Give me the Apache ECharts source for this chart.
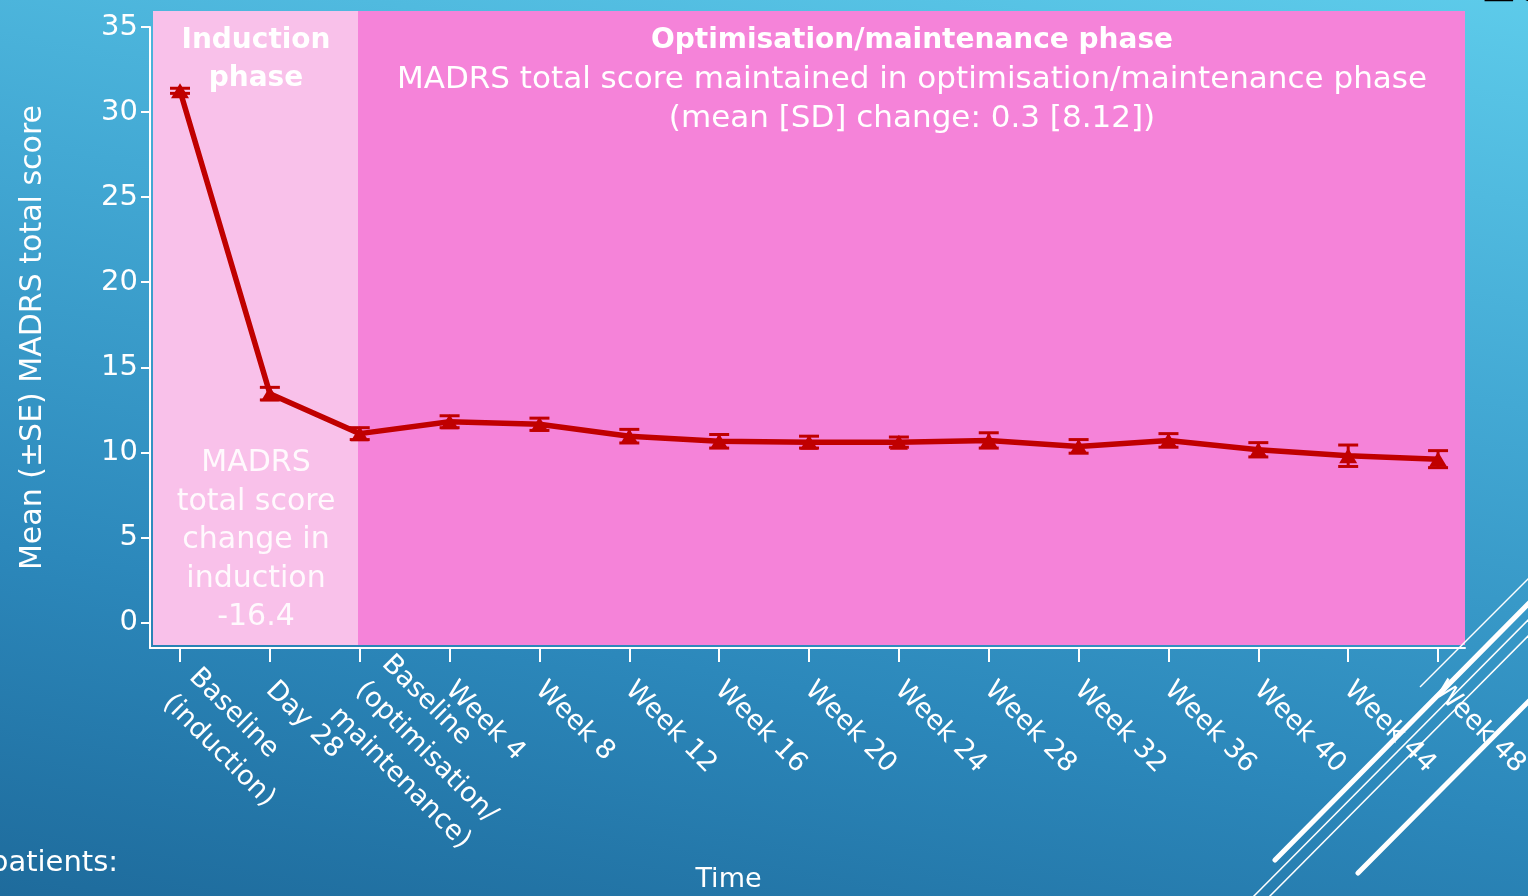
<!DOCTYPE html>
<html>
<head>
<meta charset="utf-8">
<title>MADRS total score</title>
<script src="https://cdn.jsdelivr.net/npm/echarts@6/dist/echarts.min.js"></script>
<style>
  html, body { margin: 0; padding: 0; overflow: hidden; }
  #chart {
    width: 1528px;
    height: 896px;
    background: linear-gradient(190deg, #5dcbea 0%, #43a9d4 35%, #2c88bb 70%, #1e6b9c 100%);
  }
</style>
</head>
<body>
<div id="chart"></div>
<script>
const categories = [
  "Baseline\n(induction)",
  "Day 28",
  "Baseline\n(optimisation/\nmaintenance)",
  "Week 4",
  "Week 8",
  "Week 12",
  "Week 16",
  "Week 20",
  "Week 24",
  "Week 28",
  "Week 32",
  "Week 36",
  "Week 40",
  "Week 44",
  "Week 48",
];
const meanScore = [31.25, 13.45, 11.1, 11.8, 11.65, 10.95, 10.65, 10.6, 10.6, 10.7, 10.35, 10.7, 10.15, 9.8, 9.6];
const seScore = [0.15, 0.37, 0.35, 0.35, 0.36, 0.4, 0.4, 0.35, 0.3, 0.45, 0.4, 0.4, 0.42, 0.63, 0.5];
const yTicks = [0, 5, 10, 15, 20, 25, 30, 35];
const xTicks = categories.map((c, i) => i);

const font = "DejaVu Sans";
const red = "#c00000";

const chart = echarts.init(document.getElementById("chart"));

const option = {
  backgroundColor: "transparent",
  textStyle: {
    fontFamily: font,
    color: "#ffffff",
  },
  grid: {
    left: 150,
    right: 63,
    top: 27,
    bottom: 248,
    containLabel: false,
    outerBoundsMode: "none",
  },
  xAxis: {
    type: "value",
    min: -0.334,
    max: 14.3,
    name: "Time",
    nameLocation: "middle",
    nameGap: 218,
    nameTextStyle: {
      fontSize: 27,
      color: "#ffffff",
      padding: [0, 158, 0, 0],
    },
    axisLine: { show: true, onZero: false, lineStyle: { color: "#ffffff", width: 2 } },
    axisTick: {
      show: true,
      length: 14,
      customValues: xTicks,
      lineStyle: { color: "#ffffff", width: 2 },
    },
    axisLabel: {
      customValues: xTicks,
      rotate: -45,
      margin: 38,
      fontSize: 27,
      lineHeight: 37,
      color: "#ffffff",
      formatter: (v) => categories[Math.round(v)],
    },
    splitLine: { show: false },
  },
  yAxis: {
    type: "value",
    min: -1.5,
    max: 35,
    name: "Mean (±SE) MADRS total score",
    nameLocation: "middle",
    nameGap: 102,
    nameTextStyle: { fontSize: 30, color: "#ffffff" },
    axisLine: { show: true, onZero: false, lineStyle: { color: "#ffffff", width: 2 } },
    axisTick: {
      show: true,
      length: 9,
      customValues: yTicks,
      lineStyle: { color: "#ffffff", width: 2 },
    },
    axisLabel: {
      customValues: yTicks,
      margin: 12,
      fontSize: 29,
      color: "#ffffff",
    },
    splitLine: { show: false },
  },
  graphic: [
    // phase panels
    { type: "rect", z: -1, shape: { x: 153, y: 11, width: 205, height: 634 }, style: { fill: "#f9c1ea" } },
    { type: "rect", z: -1, shape: { x: 358, y: 11, width: 1107, height: 634 }, style: { fill: "#f583d9" } },
    {
      type: "text", x: 256, y: 22,
      style: { text: "Induction\nphase", fill: "#ffffff", font: "bold 28px " + font, align: "center", verticalAlign: "top", lineHeight: 38 },
    },
    {
      type: "text", x: 256, y: 444,
      style: { text: "MADRS\ntotal score\nchange in\ninduction\n-16.4", fill: "rgba(255,255,255,0.9)", font: "30px " + font, align: "center", verticalAlign: "top", lineHeight: 38.5 },
    },
    {
      type: "text", x: 912, y: 22,
      style: { text: "Optimisation/maintenance phase", fill: "#ffffff", font: "bold 28px " + font, align: "center", verticalAlign: "top", lineHeight: 38 },
    },
    {
      type: "text", x: 912, y: 60,
      style: { text: "MADRS total score maintained in optimisation/maintenance phase\n(mean [SD] change: 0.3 [8.12])", fill: "#ffffff", font: "31px " + font, align: "center", verticalAlign: "top", lineHeight: 39 },
    },
    // slide leftovers
    {
      type: "text", x: -10, y: 863,
      style: { text: "patients:", fill: "#ffffff", font: "29px " + font, align: "left", verticalAlign: "middle" },
    },
    {
      type: "text", x: 1478, y: 14,
      style: { text: "18", fill: "#000000", font: "bold 56px " + font, align: "left", verticalAlign: "bottom" },
    },
    { type: "line", shape: { x1: 1420, y1: 687, x2: 1540, y2: 567 }, style: { stroke: "#ffffff", lineWidth: 1.5 } },
    { type: "line", shape: { x1: 1275, y1: 860, x2: 1540, y2: 592 }, style: { stroke: "#ffffff", lineWidth: 5, lineCap: "round" } },
    { type: "line", shape: { x1: 1250, y1: 900, x2: 1540, y2: 608 }, style: { stroke: "#ffffff", lineWidth: 1.5 } },
    { type: "line", shape: { x1: 1266, y1: 900, x2: 1540, y2: 624 }, style: { stroke: "#ffffff", lineWidth: 1.5 } },
    { type: "line", shape: { x1: 1358, y1: 873, x2: 1540, y2: 690 }, style: { stroke: "#ffffff", lineWidth: 5, lineCap: "round" } },
  ],
  series: [
    {
      type: "line",
      data: meanScore.map((m, i) => [i, m]),
      symbol: "triangle",
      symbolSize: [18, 15],
      itemStyle: { color: red },
      lineStyle: { color: red, width: 5.5 },
      z: 3,
    },
    {
      type: "custom",
      data: meanScore.map((m, i) => [i, m, seScore[i]]),
      z: 4,
      renderItem: (params, api) => {
        const x = api.value(0);
        const y = api.value(1);
        const se = api.value(2);
        const top = api.coord([x, y + se]);
        const bot = api.coord([x, y - se]);
        const half = 10;
        const st = { stroke: red, lineWidth: 3 };
        return {
          type: "group",
          children: [
            { type: "line", shape: { x1: top[0], y1: top[1], x2: bot[0], y2: bot[1] }, style: st },
            { type: "line", shape: { x1: top[0] - half, y1: top[1], x2: top[0] + half, y2: top[1] }, style: st },
            { type: "line", shape: { x1: bot[0] - half, y1: bot[1], x2: bot[0] + half, y2: bot[1] }, style: st },
          ],
        };
      },
    },
  ],
};

chart.setOption(option);
window.addEventListener("resize", () => {
  chart.resize();
});
</script>
</body>
</html>
